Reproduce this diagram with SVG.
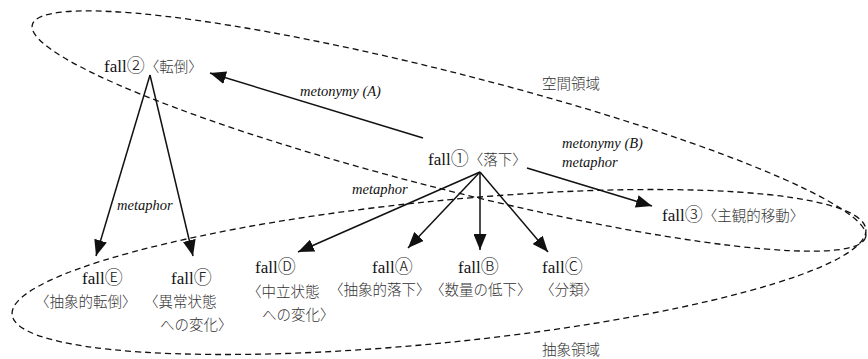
<svg xmlns="http://www.w3.org/2000/svg" width="868" height="359" viewBox="0 0 868 359">
<defs>
<style>
.lat{font-family:"Liberation Serif","DejaVu Serif","Noto Sans CJK JP",serif;font-size:17px;fill:#111}
.cir{font-family:"Noto Sans CJK JP",sans-serif;font-size:18px;fill:#222;font-weight:300}
.cjk{font-family:"Noto Sans CJK JP",sans-serif;font-size:14.5px;fill:#333;font-weight:300}
.lab{font-family:"Liberation Serif","DejaVu Serif",serif;font-size:14.5px;font-style:italic;fill:#111}
.region{fill:none;stroke:#111;stroke-width:1.3;stroke-dasharray:6 4}
.edge{stroke:#111;stroke-width:1.5;fill:none;marker-end:url(#ah)}
</style>
<marker id="ah" viewBox="0 0 16 13" refX="16" refY="6.5" markerWidth="16" markerHeight="13" markerUnits="userSpaceOnUse" orient="auto">
<path d="M0,0 L16,6.5 L0,13 z" fill="#111"/>
</marker>
</defs>
<rect width="868" height="359" fill="#fff"/>
<g id="regions">
<ellipse class="region" cx="449" cy="131" rx="430" ry="58" transform="rotate(14.3 449 131)"/>
<ellipse class="region" cx="439" cy="272" rx="429" ry="71" transform="rotate(-5.7 439 272)"/>
<text class="cjk" x="542" y="89">空間領域</text>
<text class="cjk" x="542" y="355">抽象領域</text>
</g>
<g id="connectors">
<line class="edge" x1="423" y1="138" x2="210" y2="73"/>
<line class="edge" x1="527" y1="168" x2="652" y2="206"/>
<line class="edge" x1="150" y1="75" x2="96" y2="256"/>
<line class="edge" x1="150" y1="75" x2="193" y2="256"/>
<line class="edge" x1="480" y1="172" x2="298" y2="252"/>
<line class="edge" x1="480" y1="172" x2="408" y2="248"/>
<line class="edge" x1="480" y1="172" x2="480" y2="250"/>
<line class="edge" x1="480" y1="172" x2="548" y2="252"/>
<text class="lab" x="300" y="96">metonymy (A)</text>
<text class="lab" x="562" y="148">metonymy (B)</text>
<text class="lab" x="562" y="167">metaphor</text>
<text class="lab" x="352" y="194">metaphor</text>
<text class="lab" x="117" y="210">metaphor</text>
</g>
<g id="fall2">
<text class="lat" x="104" y="72">fall<tspan class="cir">②</tspan><tspan class="cjk">〈転倒〉</tspan></text>
</g>
<g id="fall1">
<text class="lat" x="428" y="165">fall<tspan class="cir">①</tspan><tspan class="cjk">〈落下〉</tspan></text>
</g>
<g id="fall3">
<text class="lat" x="662" y="221">fall<tspan class="cir">③</tspan><tspan class="cjk">〈主観的移動〉</tspan></text>
</g>
<g id="fallE">
<text class="lat" x="82" y="284">fall<tspan class="cir">Ⓔ</tspan></text>
<text class="cjk" x="35" y="307">〈抽象的転倒〉</text>
</g>
<g id="fallF">
<text class="lat" x="171" y="284">fall<tspan class="cir">Ⓕ</tspan></text>
<text class="cjk" x="144" y="307">〈異常状態</text>
<text class="cjk" x="160" y="330">への変化〉</text>
</g>
<g id="fallD">
<text class="lat" x="255" y="273">fall<tspan class="cir">Ⓓ</tspan></text>
<text class="cjk" x="247" y="297">〈中立状態</text>
<text class="cjk" x="262" y="320">への変化〉</text>
</g>
<g id="fallA">
<text class="lat" x="372" y="273">fall<tspan class="cir">Ⓐ</tspan></text>
<text class="cjk" x="329" y="295">〈抽象的落下〉</text>
</g>
<g id="fallB">
<text class="lat" x="458" y="273">fall<tspan class="cir">Ⓑ</tspan></text>
<text class="cjk" x="430" y="295">〈数量の低下〉</text>
</g>
<g id="fallC">
<text class="lat" x="542" y="273">fall<tspan class="cir">Ⓒ</tspan></text>
<text class="cjk" x="540" y="295">〈分類〉</text>
</g>
</svg>
